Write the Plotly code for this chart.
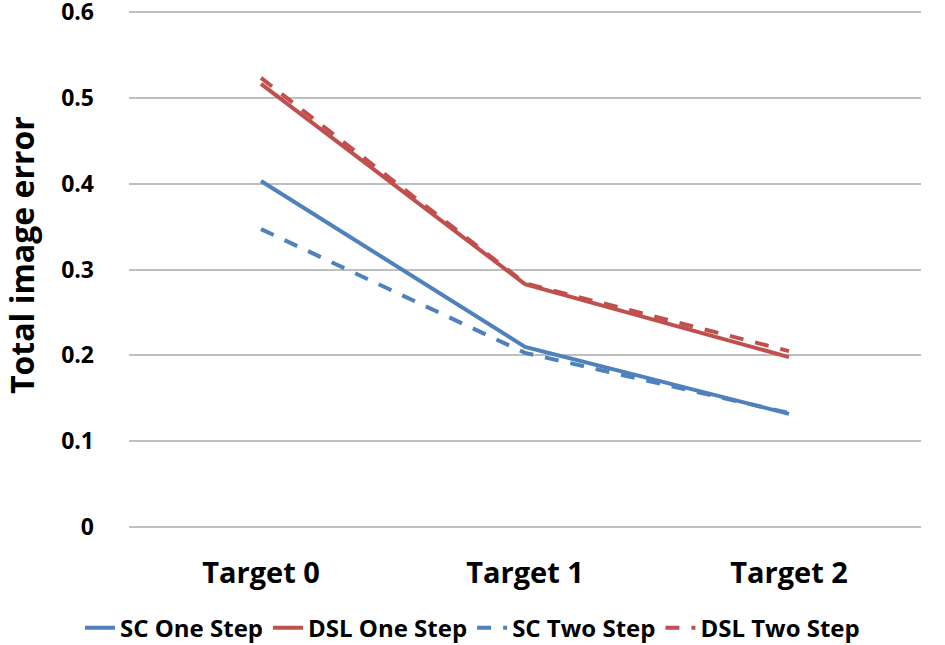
import plotly.graph_objects as go

categories = ["Target 0", "Target 1", "Target 2"]
sc_one = [0.403, 0.210, 0.132]
dsl_one = [0.516, 0.283, 0.198]
sc_two = [0.347, 0.203, 0.133]
dsl_two = [0.523, 0.284, 0.205]
y_ticks = [0, 0.1, 0.2, 0.3, 0.4, 0.5, 0.6]
y_tick_labels = ["0", "0.1", "0.2", "0.3", "0.4", "0.5", "0.6"]

BLUE = "#4F81BD"
RED = "#C0504D"
FONT = "Open Sans"

fig = go.Figure()
fig.add_trace(go.Scatter(x=categories, y=sc_one, name="SC One Step", mode="lines",
                         line=dict(color=BLUE, width=4)))
fig.add_trace(go.Scatter(x=categories, y=dsl_one, name="DSL One Step", mode="lines",
                         line=dict(color=RED, width=4)))
fig.add_trace(go.Scatter(x=categories, y=sc_two, name="SC Two Step", mode="lines",
                         line=dict(color=BLUE, width=4, dash="14px,12px")))
fig.add_trace(go.Scatter(x=categories, y=dsl_two, name="DSL Two Step", mode="lines",
                         line=dict(color=RED, width=4, dash="14px,12px")))

fig.update_layout(
    width=945, height=645,
    margin=dict(l=129, r=24, t=10, b=116, autoexpand=False),
    paper_bgcolor="white", plot_bgcolor="white",
    font=dict(family=FONT, size=20, color="black"),
    showlegend=True,
    legend=dict(orientation="h", xref="container", yref="container",
                x=0.5, xanchor="center", y=0.026, yanchor="middle",
                font=dict(family=FONT, size=24, color="black", weight="bold"),
                itemwidth=30, tracegroupgap=0),
    xaxis=dict(type="category", showgrid=False, showline=False, zeroline=False,
               ticks="", ticklabelstandoff=24,
               tickfont=dict(family=FONT, size=29, weight="bold"),
               range=[-0.5, 2.5]),
    yaxis=dict(range=[-0.002, 0.602], tickvals=y_ticks, ticktext=y_tick_labels,
               showgrid=True, gridcolor="#BFBFBF", gridwidth=1.5, zeroline=False,
               showline=False, ticks="", ticklabelstandoff=34,
               ticklabeloverflow="allow",
               tickfont=dict(family=FONT, size=23, weight="bold")),
    annotations=[dict(text="<b>Total image error</b>", textangle=-90,
                      xref="paper", yref="paper", x=-0.1351, y=0.528,
                      xanchor="center", yanchor="middle", showarrow=False,
                      font=dict(family=FONT, size=32, color="black"))],
)
fig.write_html("out.html", config={"displayModeBar": False},
               post_script="document.body.style.margin='0';")
